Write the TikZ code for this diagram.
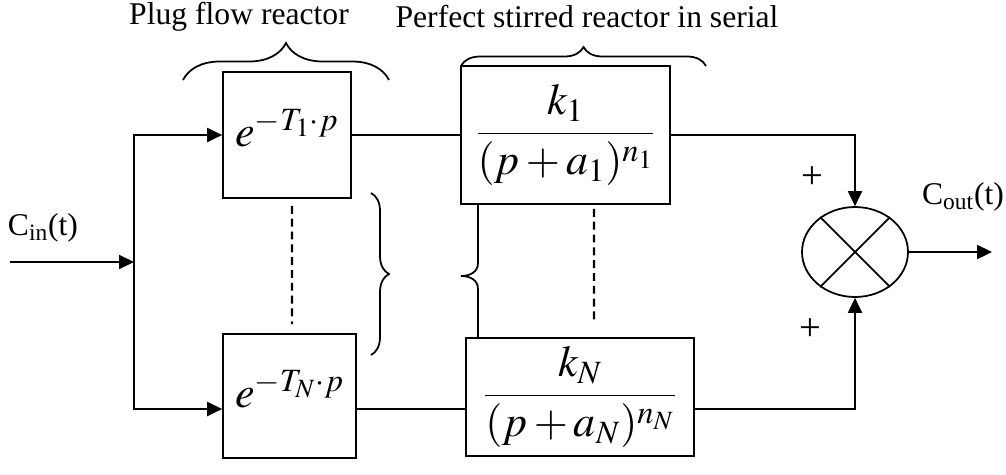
\documentclass[tikz,border=0pt]{standalone}
\usepackage{mathptmx}
\usepackage{fontspec}
\setmainfont{Liberation Serif}
\usepackage{amsmath}
\usetikzlibrary{positioning,arrows.meta,decorations.pathreplacing,shapes.geometric,calc}
\tikzset{
  block/.style={draw,line width=1pt,inner sep=0pt,
                font=\fontsize{25}{30}\selectfont},
  txt/.style={inner sep=0pt,font=\fontsize{18}{22}\selectfont},
  sig/.style={line width=1pt},
  sigarrow/.style={sig,-{Triangle[length=8.5pt,width=8pt]}},
  dashline/.style={line width=1.2pt,dash pattern=on 4.5pt off 2.8pt},
  bracket/.style={line width=1pt,decorate,decoration={brace,amplitude=#1}}
}

\begin{document}
\begin{tikzpicture}[x=0.02cm,y=-0.02cm]
        \useasboundingbox (0,0) rectangle (1006,474);
        % reactor blocks
        \node[block,minimum width=2.56cm,minimum height=2.52cm,text depth=0.3cm]
          (pfr1) at (287,135) {$e^{-T_1\cdot p}$};
        \node[block,minimum width=2.66cm,minimum height=2.48cm,text depth=0.3cm]
          (pfrN) at (289.5,396) {$e^{-T_N\cdot p}$};
        \node[block,minimum width=4.18cm,minimum height=2.76cm]
          (psr1) at (565.5,135) {$\dfrac{k_1}{(p+a_1)^{n_1}}$};
        \node[block,minimum width=4.56cm,minimum height=2.36cm]
          (psrN) at (580,397) {$\dfrac{k_N}{(p+a_N)^{n_N}}$};
        % summing junction
        \node[draw,ellipse,line width=1pt,inner sep=0pt,
              minimum width=2.12cm,minimum height=1.8cm] (sum) at (855,252) {};
        \draw[sig] (sum.45) -- (sum.225) (sum.135) -- (sum.315);
        % texts
        \node[txt] (pfrlbl) at (239,17) {Plug flow reactor};
        \node[txt] (psrlbl) at (587,17) {Perfect stirred reactor in serial};
        \node[txt] (cin) at (43,228) {C\textsubscript{in}(t)};
        \node[txt] (cout) at (963,197) {C\textsubscript{out}(t)};
        \node[txt,font=\fontsize{22}{26}\selectfont] (plustop) at (812,178) {+};
        \node[txt,font=\fontsize{22}{26}\selectfont] (plusbot) at (810,330) {+};
        % signal points
        \coordinate (inp) at (10,262);
        \coordinate (split) at (134,262);
        \coordinate (lowrow) at (0,409);
        \coordinate (tie) at (478,276);
        \coordinate (outp) at (992,252);
        % signal lines
        \draw[sigarrow] (inp) -- (split);
        \draw[sigarrow] (split) |- (pfr1.west);
        \draw[sigarrow] (split) |- (pfrN.west |- lowrow);
        \draw[sig] (pfr1.east) -- (psr1.west);
        \draw[sig] (pfrN.east |- lowrow) -- (psrN.west |- lowrow);
        \draw[sigarrow] (psr1.east) -| (sum.north);
        \draw[sigarrow] (psrN.east |- lowrow) -| (sum.south);
        \draw[sigarrow] (sum.east) -- (outp);
        % dashed links
        \draw[dashline] ($(pfr1.south)+(5,7)$) -- ($(pfrN.north)+(2.5,-9)$);
        \draw[dashline] ($(psr1.south)+(28.5,4)$) -- ($(psrN.north)+(14,-15)$);
        % link with brace between the stirred reactors
        \draw[sig] (psr1.south -| tie) -- ($(tie)+(0,-13)$)
          .. controls ($(tie)+(0,-4)$) and ($(tie)+(-8,0)$) .. ($(tie)+(-17,0)$)
          .. controls ($(tie)+(-8,0)$) and ($(tie)+(0,4)$) .. ($(tie)+(0,13)$)
          -- (psrN.north -| tie);
        % braces
        \draw[bracket=0.36cm] (371,193) -- (371,355);
        \draw[bracket=0.74cm] (183,80) -- (389,80);
        \draw[bracket=0.38cm] (461,66) -- (706,66);
      \end{tikzpicture}
\end{document}
